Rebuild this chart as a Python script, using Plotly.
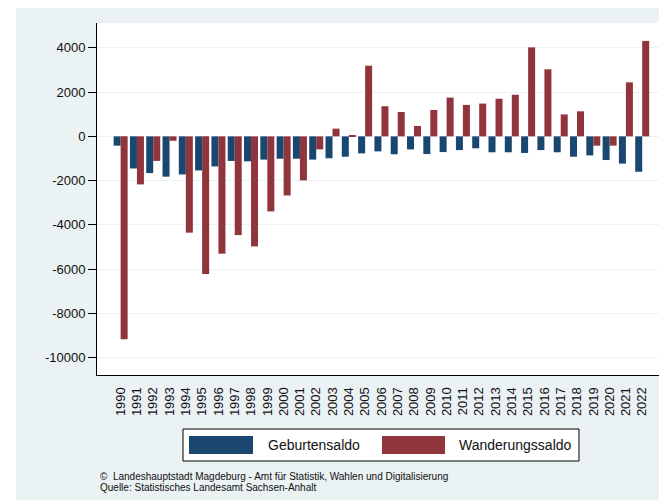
import plotly.graph_objects as go

years = [str(y) for y in range(1990, 2023)]
geburtensaldo = [-420, -1450, -1660, -1820, -1720, -1540, -1360, -1110, -1130, -1050,
                 -1010, -1010, -1050, -990, -920, -770, -680, -810, -590, -800,
                 -710, -620, -540, -720, -720, -750, -620, -720, -920, -860,
                 -1070, -1230, -1600]
wanderungssaldo = [-9160, -2170, -1110, -200, -4350, -6220, -5300, -4460, -4970, -3390,
                   -2670, -1990, -590, 350, 30, 3190, 1360, 1100, 470, 1190,
                   1750, 1420, 1480, 1700, 1880, 4020, 3030, 990, 1130, -420,
                   -420, 2440, 4310]
y_ticks = [-10000, -8000, -6000, -4000, -2000, 0, 2000, 4000]
y_ticktext = [str(v) for v in y_ticks]
series_names = ["Geburtensaldo", "Wanderungssaldo"]
footer_lines = ["©  Landeshauptstadt Magdeburg - Amt für Statistik, Wahlen und Digitalisierung",
                "Quelle: Statistisches Landesamt Sachsen-Anhalt"]

BLUE = "#1a476f"
RED = "#90353b"
BG = "#eaf2f3"

OFF = 8  # page body margin
W, H = 667 - OFF, 500 - OFF
# plot area in page pixels: x 97..666, y 23..375
L, T = 97 - OFF, 23 - OFF
R, B = W - (666 - OFF), H - (375 - OFF)
PW, PH = W - L - R, H - T - B


def px(x):
    return (x - OFF - L) / PW


def py(y):
    return (H - B - (y - OFF)) / PH


fig = go.Figure()
fig.add_trace(go.Bar(x=years, y=geburtensaldo, name=series_names[0],
                     marker=dict(color=BLUE, line=dict(width=0))))
fig.add_trace(go.Bar(x=years, y=wanderungssaldo, name=series_names[1],
                     marker=dict(color=RED, line=dict(width=0))))

shapes = [
    # white strip left of the light graph region
    dict(type="rect", xref="paper", yref="paper", x0=px(0), x1=px(16), y0=py(505), y1=py(0),
         fillcolor="white", line=dict(width=0), layer="below"),
    # legend box
    dict(type="rect", xref="paper", yref="paper", x0=px(183), x1=px(579), y0=py(461), y1=py(429),
         fillcolor="white", line=dict(color="black", width=1)),
    dict(type="rect", xref="paper", yref="paper", x0=px(189), x1=px(253), y0=py(454), y1=py(436),
         fillcolor=BLUE, line=dict(width=0)),
    dict(type="rect", xref="paper", yref="paper", x0=px(382), x1=px(445), y0=py(454), y1=py(436),
         fillcolor=RED, line=dict(width=0)),
]

annotations = [
    dict(text=series_names[0], xref="paper", yref="paper", x=px(266), y=py(445),
         xanchor="left", yanchor="middle", showarrow=False,
         font=dict(family="Liberation Sans, Arial", size=14, color="#111")),
    dict(text=series_names[1], xref="paper", yref="paper", x=px(457), y=py(445),
         xanchor="left", yanchor="middle", showarrow=False,
         font=dict(family="Liberation Sans, Arial", size=14, color="#111")),
    dict(text=footer_lines[0], xref="paper", yref="paper", x=px(98), y=py(476),
         xanchor="left", yanchor="middle", showarrow=False,
         font=dict(family="Liberation Sans, Arial", size=10, color="#111")),
    dict(text=footer_lines[1], xref="paper", yref="paper", x=px(98), y=py(487),
         xanchor="left", yanchor="middle", showarrow=False,
         font=dict(family="Liberation Sans, Arial", size=10, color="#111")),
]

fig.update_layout(
    width=W, height=H,
    margin=dict(l=L, r=R, t=T, b=B, pad=0),
    paper_bgcolor=BG,
    plot_bgcolor="white",
    barmode="group",
    bargap=0.14,
    bargroupgap=0,
    showlegend=False,
    shapes=shapes,
    annotations=annotations,
    font=dict(family="Liberation Sans, Arial", size=13, color="#111"),
    xaxis=dict(
        type="category",
        range=[-1.45, 33.46],
        tickangle=-90,
        showgrid=False,
        showline=True, linecolor="black", linewidth=1,
        ticks="", ticklabelstandoff=6,
        tickfont=dict(size=13),
        zeroline=False,
    ),
    yaxis=dict(
        range=[-10780, 5120],
        tickvals=y_ticks,
        ticktext=y_ticktext,
        showgrid=True, gridcolor=BG, gridwidth=1,
        zeroline=False,
        showline=True, linecolor="black", linewidth=1,
        ticks="outside", ticklen=8, tickcolor="black",
        tickfont=dict(size=13),
    ),
)

fig.write_html("out.html")
